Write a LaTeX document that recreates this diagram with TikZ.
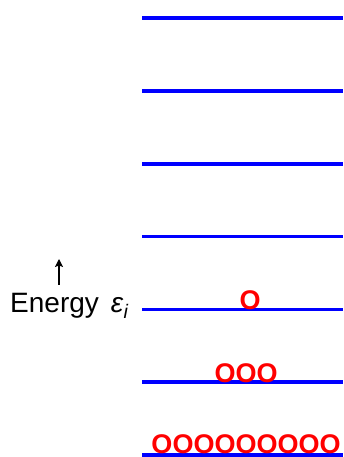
\documentclass[tikz,border=0pt]{standalone}
\usepackage{fontspec}
\setmainfont{Liberation Sans}
\usetikzlibrary{arrows.meta, positioning}

\begin{document}
\begin{tikzpicture}[x=1pt, y=1pt,
    level/.style={draw=blue, line width=3.5pt},
    particle/.style={text=red, font=\fontsize{27}{30}\selectfont\bfseries,
                     inner sep=0pt, anchor=base},
    axistext/.style={font=\fontsize{28}{32}\selectfont, inner sep=0pt},
    uparrow/.style={-{Stealth[length=8pt, width=8pt, inset=1.5pt]}, line width=1.3pt}
  ]
  \useasboundingbox (0,0) rectangle (343,457);

  % Energy levels
  \foreach \k in {0,...,6} {
    \coordinate (l\k w) at (142, 2+72.8*\k);
    \coordinate (l\k e) at (343, 2+72.8*\k);
    \draw[level] (l\k w) -- (l\k e);
  }

  % Occupation of the lowest levels
  \node[particle] (occ0) at (246, 3.5)   {OOOOOOOOO};
  \node[particle] (occ1) at (246, 74.8)  {OOO};
  \node[particle] (occ2) at (250, 147.6) {O};

  % Axis label
  \node[axistext, anchor=base west] (energy) at (10, 144)
    {Energy\hspace{12pt}\textit{ε}\textsubscript{\textit{i}}};
  \coordinate (arrowfoot) at (59, 172);
  \coordinate (arrowtip)  at (59, 198);
  \draw[uparrow] (arrowfoot) -- (arrowtip);

\end{tikzpicture}
\end{document}
